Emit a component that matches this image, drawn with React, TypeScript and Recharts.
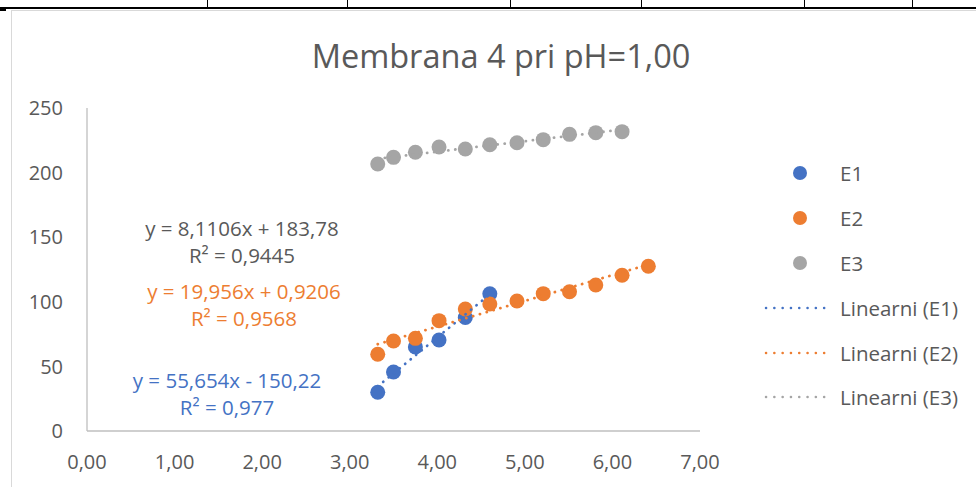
import React from "react";
import {
  ScatterChart,
  Scatter,
  XAxis,
  YAxis,
} from "recharts";

// measured pH-ish x values and the three electrode readings
const xValues = [3.32, 3.5, 3.75, 4.02, 4.32, 4.6, 4.91, 5.21, 5.51, 5.81, 6.11, 6.41];
const e1Values = [30.0, 45.7, 65.0, 70.4, 87.9, 106.2];
const e2Values = [59.4, 69.7, 71.7, 85.4, 94.4, 98.3, 100.6, 106.3, 107.8, 113.0, 120.5, 127.5];
const e3Values = [206.7, 211.8, 215.7, 219.8, 218.3, 221.6, 223.1, 225.5, 229.6, 230.9, 231.7];

// trendline coefficients as shown on the chart (slope, intercept)
const slopes = [55.654, 19.956, 8.1106];
const intercepts = [-150.22, 0.9206, 183.78];

const xTicks = [0, 1, 2, 3, 4, 5, 6, 7];
const yTicks = [0, 50, 100, 150, 200, 250];

const seriesNames = ["E1", "E2", "E3"];
const COLORS = ["#4472C4", "#ED7D31", "#A5A5A5"];
const TEXT = "#595959";
const FONT = "'Open Sans', sans-serif";

const allValues = [e1Values, e2Values, e3Values];

const series = allValues.map((vals) => vals.map((y, i) => ({ x: xValues[i], y })));

const trends = allValues.map((vals, k) => {
  const x0 = xValues[0];
  const x1 = xValues[vals.length - 1];
  return [
    { x: x0, y: slopes[k] * x0 + intercepts[k] },
    { x: x1, y: slopes[k] * x1 + intercepts[k] },
  ];
});

const equations = [
  { text: ["y = 55,654x - 150,22", "R² = 0,977"], color: COLORS[0], cx: 227, top: 367 },
  { text: ["y = 19,956x + 0,9206", "R² = 0,9568"], color: COLORS[1], cx: 244, top: 278 },
  { text: ["y = 8,1106x + 183,78", "R² = 0,9445"], color: TEXT, cx: 242, top: 215 },
];

const fmt = (v: number) => v.toFixed(2).replace(".", ",");

const Dot = (color: string) => (p: any) => <circle cx={p.cx} cy={p.cy} r={7.5} fill={color} />;

const Legend = () => (
  <div style={{ position: "absolute", left: 760, top: 151, fontFamily: FONT, fontSize: 20.5, color: TEXT }}>
    {seriesNames.map((n, i) => (
      <div key={n} style={{ height: 44.8, display: "flex", alignItems: "center" }}>
        <svg width={80} height={20}>
          <circle cx={40} cy={10} r={7} fill={COLORS[i]} />
        </svg>
        <span>{n}</span>
      </div>
    ))}
    {seriesNames.map((n, i) => (
      <div key={"l" + n} style={{ height: 44.8, display: "flex", alignItems: "center" }}>
        <svg width={80} height={20}>
          <line x1={6} x2={72} y1={10} y2={10} stroke={COLORS[i]} strokeWidth={2.5}
            strokeDasharray="0.1 8.2" strokeLinecap="round" />
        </svg>
        <span>Linearni ({n})</span>
      </div>
    ))}
  </div>
);

export default function App() {
  return (
    <div style={{ position: "absolute", left: 0, top: 0, width: 976, height: 487, background: "#fff", overflow: "hidden" }}>
      {/* spreadsheet cell borders above the chart */}
      <div style={{ position: "absolute", left: 0, top: 7, width: 976, height: 2, background: "#000" }} />
      {[207, 347, 510, 641, 804, 912].map((x) => (
        <div key={x} style={{ position: "absolute", left: x, top: 0, width: 1, height: 8, background: "#000" }} />
      ))}
      <div style={{ position: "absolute", left: 0, top: 9, width: 6, height: 2, background: "#000" }} />
      <div style={{ position: "absolute", left: 11, top: 10, width: 980, height: 490, border: "1px solid #d9d9d9" }} />

      <div style={{ position: "absolute", left: 0, top: 0 }}>
        <ScatterChart width={976} height={487} margin={{ top: 108, right: 276, left: 27, bottom: 16 }}>
          <XAxis
            type="number"
            dataKey="x"
            domain={[0, 7]}
            ticks={xTicks}
            tickFormatter={fmt}
            axisLine={{ stroke: "#bfbfbf", strokeWidth: 1.3 }}
            tickLine={false}
            tickSize={0}
            tickMargin={24}
            height={40}
            tick={{ fill: TEXT, fontSize: 20, fontFamily: FONT }}
          />
          <YAxis
            type="number"
            dataKey="y"
            domain={[0, 250]}
            ticks={yTicks}
            axisLine={{ stroke: "#bfbfbf", strokeWidth: 1.3 }}
            tickLine={false}
            tickSize={0}
            tickMargin={24}
            width={60}
            tick={{ fill: TEXT, fontSize: 20, fontFamily: FONT }}
          />
          {series.map((d, i) => (
            <Scatter key={seriesNames[i]} name={seriesNames[i]} data={d} shape={Dot(COLORS[i])} isAnimationActive={false} />
          ))}
          {trends.map((d, i) => (
            <Scatter
              key={"t" + i}
              name={"Linearni (" + seriesNames[i] + ")"}
              data={d}
              line={{ stroke: COLORS[i], strokeWidth: 2.8, strokeDasharray: "0.1 7", strokeLinecap: "round" }}
              shape={() => <g />}
              isAnimationActive={false}
            />
          ))}
        </ScatterChart>
      </div>

      <div style={{ position: "absolute", left: 0, width: 1002, top: 33, textAlign: "center", fontFamily: FONT, fontSize: 32.5, color: TEXT }}>
        Membrana 4 pri pH=1,00
      </div>

      {equations.map((eq) => (
        <div key={eq.text[0]} style={{ position: "absolute", left: eq.cx - 150, width: 300, top: eq.top, textAlign: "center", fontFamily: FONT, fontSize: 20.5, lineHeight: "27px", color: eq.color }}>
          {eq.text.map((t) => <div key={t}>{t}</div>)}
        </div>
      ))}

      <Legend />
    </div>
  );
}
